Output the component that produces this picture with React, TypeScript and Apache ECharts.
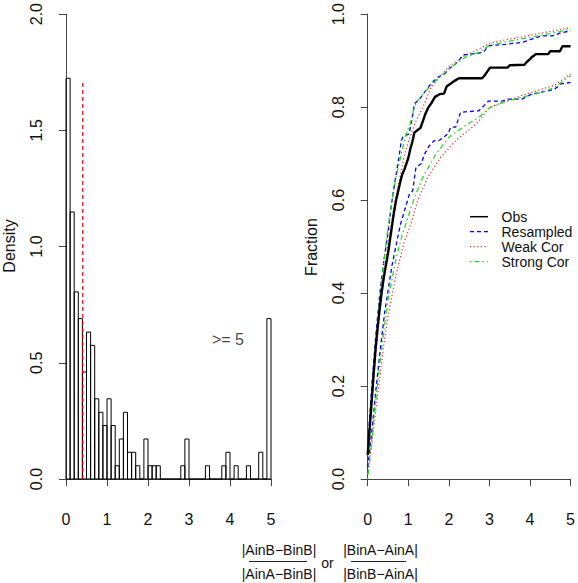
import React, { useEffect, useRef } from "react";
import * as echarts from "echarts";

// ---------- data ----------
const binWidth = 0.1;
const densities = [
  1.724, 1.149, 0.805, 0.69, 0.46, 0.632, 0.575, 0.345, 0.287, 0.23,
  0.345, 0.23, 0.057, 0.172, 0.287, 0.115, 0.115, 0.057, 0, 0.172,
  0.057, 0.057, 0.057, 0, 0, 0, 0, 0, 0.057, 0.172,
  0, 0, 0, 0, 0.057, 0, 0, 0, 0.057, 0.115,
  0, 0.057, 0, 0, 0.057, 0, 0, 0.115, 0, 0.69,
];
const refLineX = 0.41;
const refLineTop = 1.71;
const overflowLabel = ">= 5";
const overflowLabelPos = [3.95, 0.6];

const obsCurve = [
  [0, 0.052], [0.05, 0.11], [0.1, 0.17], [0.15, 0.23], [0.2, 0.285], [0.25, 0.33],
  [0.3, 0.37], [0.35, 0.405], [0.4, 0.435], [0.45, 0.46], [0.5, 0.485], [0.55, 0.515],
  [0.6, 0.545], [0.65, 0.575], [0.7, 0.6], [0.8, 0.638], [0.85, 0.655], [0.9, 0.665],
  [1.0, 0.69], [1.05, 0.71], [1.1, 0.725], [1.15, 0.745], [1.22, 0.75], [1.3, 0.755],
  [1.36, 0.77], [1.42, 0.785], [1.5, 0.8], [1.58, 0.81], [1.66, 0.822], [1.78, 0.828],
  [1.88, 0.829], [1.95, 0.845], [2.05, 0.851], [2.15, 0.857], [2.25, 0.862], [2.82, 0.862],
  [2.88, 0.868], [2.96, 0.878], [3.02, 0.885], [3.45, 0.885], [3.5, 0.89], [3.86, 0.891],
  [3.92, 0.897], [4.0, 0.903], [4.05, 0.908], [4.15, 0.914], [4.45, 0.914], [4.5, 0.92],
  [4.74, 0.92], [4.8, 0.931], [5.0, 0.931],
];
const resampledUpper = [
  [0, 0.07], [0.1, 0.2], [0.2, 0.31], [0.3, 0.4], [0.4, 0.47], [0.5, 0.53], [0.6, 0.6],
  [0.68, 0.645], [0.75, 0.68], [0.83, 0.728], [0.88, 0.738], [1.02, 0.742], [1.1, 0.778],
  [1.15, 0.807], [1.28, 0.817], [1.4, 0.832], [1.56, 0.85], [1.72, 0.864], [1.89, 0.871],
  [2.0, 0.882], [2.21, 0.896], [2.35, 0.912], [2.74, 0.916], [2.85, 0.918], [2.98, 0.932],
  [3.4, 0.935], [3.8, 0.939], [4.04, 0.946], [4.28, 0.953], [4.55, 0.953], [4.77, 0.96],
  [5.0, 0.964],
];
const resampledLower = [
  [0, 0.025], [0.1, 0.1], [0.2, 0.19], [0.3, 0.27], [0.42, 0.36], [0.6, 0.46], [0.8, 0.545],
  [0.95, 0.59], [1.03, 0.613], [1.11, 0.62], [1.19, 0.671], [1.32, 0.678], [1.4, 0.699],
  [1.52, 0.717], [1.64, 0.728], [1.76, 0.728], [1.97, 0.742], [2.05, 0.757], [2.17, 0.757],
  [2.29, 0.789], [2.74, 0.792], [2.98, 0.813], [3.31, 0.813], [3.47, 0.817], [3.8, 0.817],
  [4.04, 0.828], [4.45, 0.835], [4.61, 0.839], [4.77, 0.85], [5.0, 0.853],
];
const weakUpper = [
  [0, 0.05], [0.1, 0.165], [0.2, 0.27], [0.3, 0.36], [0.4, 0.44], [0.5, 0.505], [0.6, 0.56],
  [0.7, 0.61], [0.8, 0.65], [0.9, 0.695], [1.0, 0.725], [1.1, 0.75], [1.2, 0.772],
  [1.36, 0.8], [1.55, 0.84], [1.75, 0.862], [2.0, 0.887], [2.33, 0.908], [2.74, 0.925],
  [3.0, 0.937], [3.4, 0.945], [3.8, 0.951], [4.2, 0.958], [4.6, 0.964], [5.0, 0.971],
];
const weakLower = [
  [0, 0.01], [0.1, 0.075], [0.2, 0.15], [0.3, 0.22], [0.4, 0.29], [0.5, 0.35], [0.7, 0.44],
  [0.9, 0.51], [1.07, 0.55], [1.23, 0.599], [1.48, 0.649], [1.8, 0.692], [2.17, 0.728],
  [2.58, 0.757], [2.74, 0.77], [3.0, 0.8], [3.4, 0.812], [3.8, 0.825], [4.2, 0.836],
  [4.6, 0.847], [5.0, 0.871],
];
const strongUpper = [
  [0, 0.06], [0.1, 0.19], [0.2, 0.3], [0.3, 0.39], [0.4, 0.47], [0.5, 0.54], [0.6, 0.6],
  [0.7, 0.65], [0.83, 0.7], [0.95, 0.742], [1.05, 0.765], [1.12, 0.79], [1.2, 0.81],
  [1.4, 0.832], [1.68, 0.857], [2.0, 0.882], [2.4, 0.907], [2.74, 0.918], [3.0, 0.933],
  [3.5, 0.942], [4.0, 0.95], [4.5, 0.958], [5.0, 0.968],
];
const strongLower = [
  [0, 0], [0.1, 0.085], [0.2, 0.17], [0.3, 0.25], [0.4, 0.32], [0.5, 0.385], [0.7, 0.475],
  [0.85, 0.525], [1.0, 0.565], [1.15, 0.605], [1.36, 0.649], [1.68, 0.699], [2.0, 0.735],
  [2.4, 0.76], [2.74, 0.778], [3.0, 0.798], [3.4, 0.812], [3.8, 0.821], [4.3, 0.832],
  [4.6, 0.842], [5.0, 0.868],
];

const legendNames = ["Obs", "Resampled", "Weak Cor", "Strong Cor"];

const FONT = "'Liberation Sans', Arial, Helvetica, sans-serif";
const AXIS_COLOR = "#444";

const COLORS: Record<string, string> = {
  Obs: "#000000",
  Resampled: "#0000ee",
  "Weak Cor": "#ee2222",
  "Strong Cor": "#22dd22",
};
const DASHES: Record<string, any> = {
  Obs: "solid",
  Resampled: [4, 3],
  "Weak Cor": [1.2, 2.4],
  "Strong Cor": [1.5, 3, 5, 3],
};
const WIDTHS: Record<string, number> = {
  Obs: 2.4,
  Resampled: 1.3,
  "Weak Cor": 1.2,
  "Strong Cor": 1.3,
};

function axisCommon(min: number, max: number, interval: number, gridIndex: number, offset: number, isY: boolean, margin: number) {
  return {
    type: "value",
    gridIndex,
    min,
    max,
    interval,
    offset,
    position: isY ? "left" : "bottom",
    axisLine: { show: true, lineStyle: { color: AXIS_COLOR, width: 1 } },
    axisTick: { show: true, length: 7, lineStyle: { color: AXIS_COLOR, width: 1 } },
    splitLine: { show: false },
    axisLabel: {
      show: true,
      fontSize: 16,
      fontFamily: FONT,
      color: "#111",
      margin,
      rotate: isY ? 90 : 0,
      formatter: isY ? (v: number) => v.toFixed(1) : (v: number) => String(v),
    },
  };
}

function textEl(text: string, x: number, y: number, fontSize: number, rotation = 0, align = "center") {
  return {
    type: "text",
    x,
    y,
    rotation,
    style: {
      text,
      fontSize,
      fontFamily: FONT,
      fill: "#111",
      textAlign: align,
      textVerticalAlign: "middle",
      align,
      verticalAlign: "middle",
    },
  };
}

export default function App() {
  const ref = useRef<HTMLDivElement>(null);
  useEffect(() => {
    if (!ref.current) return;
    const chart = echarts.init(ref.current, undefined, { renderer: "svg" });

    const histData = densities.map((d, i) => [i * binWidth, (i + 1) * binWidth, d]);

    const lineSeries = (name: string, data: number[][], z: number) => ({
      type: "line",
      name,
      xAxisIndex: 1,
      yAxisIndex: 1,
      data,
      symbol: "none",
      showSymbol: false,
      smooth: false,
      z,
      lineStyle: { color: COLORS[name], width: WIDTHS[name], type: DASHES[name] },
      itemStyle: { color: COLORS[name] },
    });

    // hand-drawn legend (line sample + label)
    const legendEls: any[] = [];
    legendNames.forEach((name, i) => {
      const y = 216.7 + i * 15;
      const dash = DASHES[name];
      legendEls.push({
        type: "line",
        shape: { x1: 470, y1: y, x2: 488, y2: y },
        style: {
          stroke: COLORS[name],
          lineWidth: name === "Obs" ? 1.5 : 1.3,
          lineDash: Array.isArray(dash) ? dash : null,
        },
      });
      legendEls.push(textEl(name, 501.5, y, 14, 0, "left"));
    });

    const option: any = {
      animation: false,
      backgroundColor: "#fff",
      textStyle: { fontFamily: FONT },
      grid: [
        { left: 66, top: 13.3, width: 205, height: 465.7, containLabel: false },
        { left: 367.7, top: 13.3, width: 205, height: 465.7, containLabel: false },
      ],
      xAxis: [
        axisCommon(0, 5, 1, 0, 18.3, false, 14),
        axisCommon(0, 5, 1, 1, 18.3, false, 14),
      ],
      yAxis: [
        axisCommon(0, 2, 0.5, 0, 7.7, true, 14),
        axisCommon(0, 1, 0.2, 1, 7.7, true, 14),
      ],
      series: [
        {
          type: "custom",
          name: "hist",
          xAxisIndex: 0,
          yAxisIndex: 0,
          data: histData,
          encode: { x: [0, 1], y: 2 },
          renderItem: (_params: any, api: any) => {
            const x0 = api.value(0);
            const x1 = api.value(1);
            const h = api.value(2);
            const p0 = api.coord([x0, 0]);
            const p1 = api.coord([x1, h]);
            return {
              type: "rect",
              shape: { x: p0[0], y: p1[1], width: p1[0] - p0[0], height: p0[1] - p1[1] },
              style: { fill: "none", stroke: "#000", lineWidth: 1 },
            };
          },
        },
        {
          type: "line",
          name: "ref",
          xAxisIndex: 0,
          yAxisIndex: 0,
          data: [[refLineX, 0], [refLineX, refLineTop]],
          symbol: "none",
          z: 5,
          lineStyle: { color: "#dd0000", width: 1.2, type: [4, 3] },
        },
        {
          type: "scatter",
          name: "label",
          xAxisIndex: 0,
          yAxisIndex: 0,
          data: [overflowLabelPos],
          symbolSize: 0,
          label: {
            show: true,
            position: "inside",
            formatter: overflowLabel,
            fontSize: 16,
            fontFamily: FONT,
            color: "#111",
          },
        },
        lineSeries("Resampled", resampledUpper, 3),
        lineSeries("Resampled", resampledLower, 3),
        lineSeries("Weak Cor", weakUpper, 2),
        lineSeries("Weak Cor", weakLower, 2),
        lineSeries("Strong Cor", strongUpper, 3),
        lineSeries("Strong Cor", strongLower, 3),
        lineSeries("Obs", obsCurve, 6),
      ],
      graphic: [
        textEl("Density", 9, 246, 16, Math.PI / 2),
        textEl("Fraction", 311, 247, 16, Math.PI / 2),
        textEl("|AinB\u2212BinB|", 279, 550, 14),
        {
          type: "line",
          shape: { x1: 249, y1: 561.5, x2: 307, y2: 561.5 },
          style: { stroke: "#222", lineWidth: 1 },
        },
        textEl("|AinA\u2212BinB|", 279, 574, 14),
        textEl("or", 327.5, 563, 14),
        textEl("|BinA\u2212AinA|", 380.5, 550, 14),
        {
          type: "line",
          shape: { x1: 351, y1: 561.5, x2: 406, y2: 561.5 },
          style: { stroke: "#222", lineWidth: 1 },
        },
        textEl("|BinB\u2212AinA|", 380.5, 574, 14),
        ...legendEls,
      ],
    };

    chart.setOption(option);
    return () => {
      chart.dispose();
    };
  }, []);

  return (
    <div
      ref={ref}
      style={{ position: "fixed", left: 0, top: 0, width: 578, height: 583, background: "#fff" }}
    />
  );
}
